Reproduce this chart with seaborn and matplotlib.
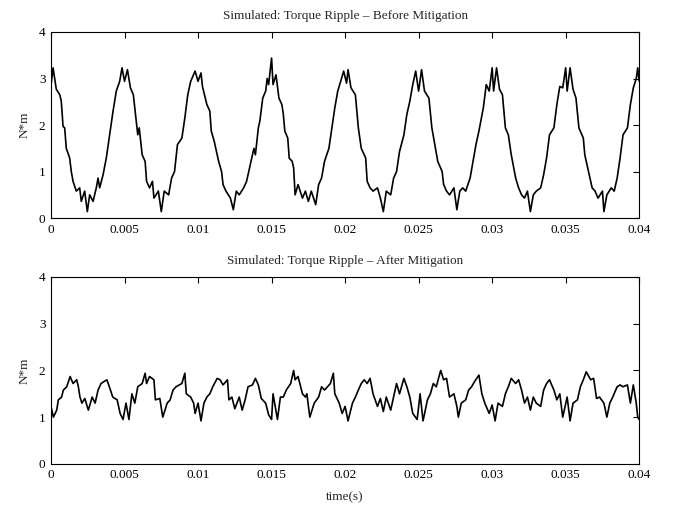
import numpy as np
import pandas as pd
import matplotlib
matplotlib.use("Agg")
import matplotlib.pyplot as plt
import seaborn as sns

# readings taken off the reference trace (time in s, torque in N*m)
before_t = [
    0.0, 0.00014, 0.00025, 0.00036, 0.0006, 0.0007, 0.00082, 0.00093, 0.00104, 0.00127,
    0.00138, 0.0015, 0.00172, 0.00195, 0.00206, 0.00229, 0.00247, 0.00263, 0.00286, 0.00308,
    0.0032, 0.00331, 0.00354, 0.00376, 0.00399, 0.00422, 0.00444, 0.00467, 0.00483, 0.005,
    0.0052, 0.0054, 0.0056, 0.0057, 0.0059, 0.006, 0.0062, 0.0064, 0.0065, 0.0067,
    0.0069, 0.0070, 0.0073, 0.0075, 0.0077, 0.0080, 0.0082, 0.0084, 0.0086, 0.0089,
    0.0091, 0.0093, 0.0095, 0.0098, 0.0100, 0.0102, 0.0103, 0.0106, 0.0108, 0.0109,
    0.0111, 0.0114, 0.0116, 0.0117, 0.0119, 0.0122, 0.0124, 0.0126, 0.0128, 0.0131,
    0.0133, 0.0135, 0.0137, 0.0138, 0.0139, 0.0141, 0.0142, 0.0144, 0.0146, 0.0147,
    0.0148, 0.0150, 0.0151, 0.0153, 0.0155, 0.0157, 0.0158, 0.0159, 0.0161, 0.0162,
    0.0164, 0.0165, 0.0166, 0.0168, 0.0171, 0.0173, 0.0175, 0.0177, 0.0180, 0.0182,
    0.0184, 0.0186, 0.0189, 0.0191, 0.0193, 0.0195, 0.0197, 0.0199, 0.0201, 0.0202,
    0.0204, 0.0207, 0.0209, 0.0211, 0.0214, 0.0215, 0.0217, 0.0219, 0.0222, 0.0224,
    0.0226, 0.0228, 0.0231, 0.0233, 0.0235, 0.0237, 0.0240, 0.0242, 0.0244, 0.0246,
    0.0248, 0.0250, 0.0252, 0.0254, 0.0257, 0.0259, 0.0261, 0.0263, 0.0266, 0.0267,
    0.0269, 0.0271, 0.0274, 0.0276, 0.0278, 0.0280, 0.0282, 0.0285, 0.0287, 0.0289,
    0.0291, 0.0294, 0.0296, 0.0298, 0.0300, 0.0301, 0.0303, 0.0305, 0.0307, 0.0309,
    0.0311, 0.0313, 0.0316, 0.0318, 0.0320, 0.0322, 0.0324, 0.0326, 0.0328, 0.0330,
    0.0333, 0.0335, 0.0337, 0.0339, 0.0342, 0.0344, 0.0346, 0.0348, 0.0350, 0.0351,
    0.0353, 0.0355, 0.0357, 0.0359, 0.0362, 0.0363, 0.0366, 0.0368, 0.0370, 0.0372,
    0.0375, 0.0376, 0.0378, 0.0381, 0.0383, 0.0385, 0.0387, 0.0389, 0.0392, 0.0394,
    0.0396, 0.0398, 0.0399, 0.0400,
]
before_nm = [
    2.85, 3.23, 3.0, 2.77, 2.65, 2.51, 1.97, 1.94, 1.5, 1.29,
    1.0, 0.79, 0.58, 0.65, 0.36, 0.58, 0.14, 0.5, 0.36, 0.65,
    0.86, 0.65, 0.93, 1.29, 1.79, 2.3, 2.73, 2.94, 3.23, 2.94,
    3.19, 2.8, 2.65, 2.37, 1.79, 1.94, 1.36, 1.22, 0.79, 0.65,
    0.79, 0.43, 0.58, 0.14, 0.58, 0.5, 0.86, 1.0, 1.58, 1.72,
    2.15, 2.65, 2.94, 3.16, 2.94, 3.12, 2.83, 2.44, 2.3, 1.87,
    1.65, 1.22, 1.0, 0.72, 0.58, 0.43, 0.18, 0.58, 0.5, 0.65,
    0.79, 1.08, 1.36, 1.5, 1.36, 1.94, 2.08, 2.58, 2.73, 3.0,
    2.87, 3.44, 2.87, 3.08, 2.58, 2.44, 2.23, 1.87, 1.72, 1.29,
    1.22, 1.08, 0.5, 0.72, 0.43, 0.58, 0.36, 0.58, 0.29, 0.72,
    0.86, 1.22, 1.5, 1.94, 2.37, 2.73, 2.94, 3.16, 2.9, 3.19,
    2.8, 2.65, 1.94, 1.5, 1.29, 0.79, 0.65, 0.58, 0.65, 0.43,
    0.14, 0.58, 0.5, 0.86, 1.0, 1.43, 1.79, 2.23, 2.51, 2.87,
    3.16, 2.73, 3.19, 2.73, 2.58, 1.94, 1.58, 1.22, 1.0, 0.72,
    0.58, 0.5, 0.65, 0.18, 0.58, 0.65, 0.58, 0.86, 1.22, 1.58,
    1.87, 2.37, 2.87, 2.73, 3.23, 2.73, 3.23, 2.77, 2.65, 1.94,
    1.79, 1.36, 0.86, 0.65, 0.5, 0.43, 0.58, 0.14, 0.5, 0.58,
    0.65, 0.93, 1.29, 1.79, 1.94, 2.44, 2.83, 2.8, 3.23, 2.73,
    3.23, 2.77, 2.58, 1.94, 1.72, 1.36, 0.93, 0.65, 0.58, 0.43,
    0.58, 0.14, 0.5, 0.65, 0.58, 0.86, 1.29, 1.79, 1.94, 2.44,
    2.8, 3.0, 3.23, 2.94,
]

after_t = [
    0.0, 0.00016, 0.00039, 0.0005, 0.00072, 0.00084, 0.00107, 0.0013, 0.0015, 0.00175,
    0.00186, 0.00197, 0.0021, 0.0023, 0.00254, 0.0028, 0.003, 0.0032, 0.0034, 0.0038,
    0.004, 0.0042, 0.0045, 0.0047, 0.0049, 0.0051, 0.0053, 0.0055, 0.0057, 0.0059,
    0.0062, 0.0064, 0.0065, 0.0067, 0.0070, 0.0071, 0.0074, 0.0076, 0.0079, 0.0081,
    0.0083, 0.0085, 0.0089, 0.0091, 0.0092, 0.0095, 0.0097, 0.0098, 0.0100, 0.0102,
    0.0104, 0.0106, 0.0108, 0.0110, 0.0113, 0.0115, 0.0117, 0.0120, 0.0121, 0.0123,
    0.0125, 0.0128, 0.0130, 0.0132, 0.0134, 0.0137, 0.0139, 0.0141, 0.0143, 0.0146,
    0.0148, 0.0150, 0.0151, 0.0154, 0.0156, 0.0158, 0.0160, 0.0163, 0.0165, 0.0166,
    0.0168, 0.0171, 0.0173, 0.0174, 0.0176, 0.0179, 0.0182, 0.0184, 0.0186, 0.0190,
    0.0192, 0.0193, 0.0196, 0.0198, 0.0200, 0.0202, 0.0205, 0.0207, 0.0209, 0.0211,
    0.0213, 0.0215, 0.0217, 0.0219, 0.0222, 0.0224, 0.0226, 0.0228, 0.0231, 0.0233,
    0.0235, 0.0237, 0.0240, 0.0242, 0.0244, 0.0246, 0.0249, 0.0251, 0.0253, 0.0256,
    0.0258, 0.0260, 0.0262, 0.0265, 0.0267, 0.0269, 0.0271, 0.0274, 0.0276, 0.0277,
    0.0279, 0.0282, 0.0284, 0.0286, 0.0288, 0.0291, 0.0293, 0.0295, 0.0298, 0.0300,
    0.0302, 0.0304, 0.0307, 0.0309, 0.0311, 0.0313, 0.0316, 0.0318, 0.0320, 0.0322,
    0.0324, 0.0326, 0.0328, 0.0330, 0.0333, 0.0335, 0.0337, 0.0339, 0.0342, 0.0344,
    0.0346, 0.0348, 0.0351, 0.0353, 0.0355, 0.0358, 0.0360, 0.0362, 0.0364, 0.0367,
    0.0369, 0.0371, 0.0373, 0.0376, 0.0378, 0.0380, 0.0382, 0.0385, 0.0387, 0.0389,
    0.0392, 0.0394, 0.0396, 0.0398, 0.0399, 0.0400,
]
after_nm = [
    1.23, 1.0, 1.15, 1.37, 1.43, 1.58, 1.65, 1.87, 1.72, 1.8,
    1.65, 1.43, 1.3, 1.4, 1.15, 1.43, 1.3, 1.58, 1.72, 1.8,
    1.62, 1.43, 1.37, 1.08, 0.95, 1.3, 0.95, 1.5, 1.3, 1.65,
    1.72, 1.94, 1.72, 1.87, 1.8, 1.37, 1.4, 1.0, 1.3, 1.37,
    1.58, 1.65, 1.72, 1.94, 1.5, 1.43, 1.3, 1.08, 1.3, 0.92,
    1.3, 1.43, 1.5, 1.65, 1.83, 1.8, 1.69, 1.8, 1.37, 1.43,
    1.18, 1.43, 1.15, 1.37, 1.65, 1.69, 1.83, 1.69, 1.4, 1.3,
    1.05, 0.95, 1.5, 0.95, 1.43, 1.43, 1.58, 1.72, 2.0, 1.8,
    1.87, 1.5, 1.43, 1.5, 1.0, 1.3, 1.43, 1.65, 1.58, 1.72,
    1.94, 1.5, 1.3, 1.08, 1.23, 0.92, 1.3, 1.43, 1.58, 1.72,
    1.8, 1.72, 1.83, 1.5, 1.23, 1.4, 1.12, 1.43, 1.15, 1.43,
    1.72, 1.5, 1.83, 1.65, 1.43, 1.08, 0.95, 1.5, 0.92, 1.37,
    1.5, 1.72, 1.65, 2.0, 1.8, 1.83, 1.43, 1.5, 1.23, 1.0,
    1.3, 1.37, 1.58, 1.65, 1.76, 1.9, 1.5, 1.3, 1.08, 1.26,
    0.92, 1.3, 1.23, 1.5, 1.65, 1.83, 1.72, 1.8, 1.58, 1.3,
    1.43, 1.15, 1.43, 1.3, 1.23, 1.58, 1.72, 1.8, 1.58, 1.37,
    1.5, 1.0, 1.43, 0.92, 1.3, 1.37, 1.65, 1.8, 1.97, 1.8,
    1.83, 1.4, 1.43, 1.3, 1.0, 1.3, 1.43, 1.65, 1.69, 1.65,
    1.69, 1.3, 1.69, 1.3, 1.0, 0.95,
]

titles = ["Simulated: Torque Ripple \u2013 Before Mitigation",
          "Simulated: Torque Ripple \u2013 After Mitigation"]
x_ticks = [0, 0.005, 0.01, 0.015, 0.02, 0.025, 0.03, 0.035, 0.04]
x_tick_labels = ["0", "0.005", "0.01", "0.015", "0.02", "0.025", "0.03", "0.035", "0.04"]
y_ticks = [0, 1, 2, 3, 4]

sns.set_style("white")
plt.rcParams["font.family"] = ["Liberation Serif", "DejaVu Serif"]
plt.rcParams["font.size"] = 9

fig = plt.figure(figsize=(6.8, 5.12), dpi=100)
ax_top = fig.add_axes([0.075, 0.574, 0.865, 0.3635])
ax_bot = fig.add_axes([0.075, 0.094, 0.865, 0.365])

series = [(before_t, before_nm), (after_t, after_nm)]
for ax, (t, nm), title in zip([ax_top, ax_bot], series, titles):
    df = pd.DataFrame({"t": t, "nm": nm})
    sns.lineplot(data=df, x="t", y="nm", ax=ax, color="black", linewidth=1.2,
                 sort=False, estimator=None)
    ax.set_xlim(0, 0.04)
    ax.set_ylim(0, 4)
    ax.set_xticks(x_ticks)
    ax.set_xticklabels(x_tick_labels)
    ax.set_yticks(y_ticks)
    ax.tick_params(direction="in", top=True, right=True, length=4, width=0.8,
                   labelsize=9.5, colors="black", pad=4)
    for s in ax.spines.values():
        s.set_visible(True)
        s.set_color("black")
        s.set_linewidth(0.8)
    ax.set_title(title, fontsize=9.5, pad=9)
    ax.set_ylabel("N*m", fontsize=9.5, labelpad=6)
    ax.set_xlabel("")

ax_bot.set_xlabel("time(s)", fontsize=9.5, labelpad=7)

fig.savefig("out.png", dpi=100, facecolor="white")
